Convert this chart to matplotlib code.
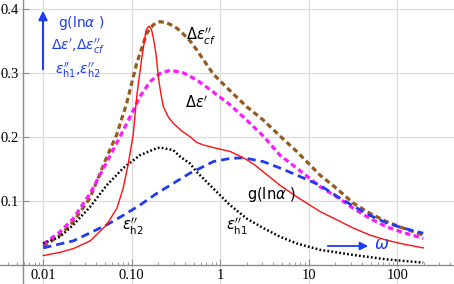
import numpy as np
import matplotlib
matplotlib.use("Agg")
import matplotlib.pyplot as plt
from matplotlib.ticker import FixedLocator, FixedFormatter, LogLocator, NullFormatter

# --- Data (x = omega, log scale) ---
g_x = [0.01, 0.0155, 0.022, 0.034, 0.052, 0.068, 0.080, 0.091, 0.104, 0.114, 0.122,
       0.129, 0.138, 0.145, 0.152, 0.157, 0.167, 0.175, 0.188, 0.200, 0.213, 0.228,
       0.259, 0.295, 0.367, 0.456, 0.542, 0.65, 0.835, 1.29, 1.6, 1.99, 2.5, 3.07,
       4.74, 7.31, 13.4, 20.7, 31.9, 49.3, 76, 117, 197]
g_y = [0.014, 0.019, 0.025, 0.037, 0.062, 0.088, 0.119, 0.156, 0.203, 0.263, 0.294,
       0.320, 0.346, 0.366, 0.371, 0.373, 0.368, 0.356, 0.330, 0.294, 0.268, 0.247,
       0.231, 0.221, 0.209, 0.200, 0.191, 0.187, 0.183, 0.177, 0.171, 0.164, 0.155, 0.145,
       0.124, 0.106, 0.083, 0.070, 0.057, 0.046, 0.038, 0.032, 0.026]

cf_x = [0.01, 0.0155, 0.0219, 0.0338, 0.0522, 0.0676, 0.0877, 0.114, 0.148, 0.175,
        0.209, 0.25, 0.30, 0.351, 0.456, 0.542, 0.835, 1.29, 1.99, 3.07, 4.74, 7.31,
        13.4, 20.7, 31.9, 49.3, 76, 117, 197]
cf_y = [0.028, 0.046, 0.067, 0.104, 0.168, 0.203, 0.252, 0.315, 0.362, 0.375,
        0.380, 0.378, 0.373, 0.366, 0.350, 0.336, 0.298, 0.272, 0.247, 0.226, 0.201, 0.177,
        0.140, 0.119, 0.096, 0.080, 0.067, 0.057, 0.046]

de_x = [0.01, 0.0155, 0.0219, 0.0338, 0.0522, 0.0738, 0.0958, 0.124, 0.161, 0.209,
        0.271, 0.383, 0.542, 0.835, 1.29, 1.99, 3.07, 4.74, 7.31, 13.4, 20.7, 31.9,
        49.3, 76, 117, 197]
de_y = [0.032, 0.051, 0.072, 0.111, 0.160, 0.200, 0.231, 0.263, 0.286, 0.299,
        0.304, 0.300, 0.289, 0.270, 0.250, 0.226, 0.201, 0.171, 0.151, 0.122, 0.106, 0.088,
        0.072, 0.059, 0.050, 0.041]

h2_x = [0.01, 0.0219, 0.0522, 0.0804, 0.124, 0.191, 0.295, 0.456, 0.542, 0.835, 1.29,
        1.83, 3.07, 4.74, 7.31, 13.4, 20.7, 31.9, 49.3, 76, 117, 197]
h2_y = [0.026, 0.037, 0.062, 0.077, 0.093, 0.111, 0.127, 0.143, 0.148, 0.161, 0.166,
        0.167, 0.161, 0.151, 0.140, 0.124, 0.107, 0.0915, 0.077, 0.065, 0.057, 0.049]

h1_x = [0.01, 0.0155, 0.0219, 0.0338, 0.0522, 0.0804, 0.124, 0.191, 0.209, 0.295,
        0.351, 0.456, 0.542, 0.835, 1.29, 1.99, 3.07, 4.74, 7.31, 13.4, 31.9, 76, 197]
h1_y = [0.033, 0.0435, 0.062, 0.090, 0.124, 0.151, 0.171, 0.182, 0.183, 0.179,
        0.169, 0.158, 0.145, 0.119, 0.093, 0.072, 0.057, 0.0435, 0.033, 0.023, 0.015, 0.008, 0.003]

x_ticks = [0.01, 0.1, 1, 10, 100]
x_labels = ["0.01", "0.10", "1", "10", "100"]
y_ticks = [0.1, 0.2, 0.3, 0.4]
y_labels = ["0.1", "0.2", "0.3", "0.4"]

W, H = 454, 284
BLUE = "#1f3cf0"


def px(x, y):
    # pixel position in the picture -> axes fraction
    return (x / W, 1 - y / H)


fig = plt.figure(figsize=(W / 100, H / 100), dpi=100)
ax = fig.add_axes([0, 0, 1, 1])
ax.set_xscale("log")
ax.set_xlim(10 ** -2.488, 10 ** 2.642)
ax.set_ylim(-0.0305, 0.4139)

# --- curves ---
ax.plot(cf_x, cf_y, color="#955a1e", lw=2.3, linestyle=(0, (1.7, 1.1)))
ax.plot(de_x, de_y, color="#ff1aff", lw=2.3, linestyle=(0, (1.7, 1.1)))
ax.plot(h2_x, h2_y, color=BLUE, lw=2.0, linestyle=(0, (3.0, 1.8)))
ax.plot(h1_x, h1_y, color="black", lw=1.8, linestyle=(0, (0.7, 0.9)))
ax.plot(g_x, g_y, color="#ff1010", lw=1.0)

# --- axes in Mathematica style ---
for s in ["top", "right"]:
    ax.spines[s].set_visible(False)
ax.spines["left"].set_position(("data", 10 ** -2.228))
ax.spines["bottom"].set_position(("data", 0))
for s in ["left", "bottom"]:
    ax.spines[s].set_color("#8c8c8c")
    ax.spines[s].set_linewidth(1.0)

ax.xaxis.set_major_locator(FixedLocator(x_ticks))
ax.xaxis.set_major_formatter(FixedFormatter(x_labels))
ax.xaxis.set_minor_locator(LogLocator(base=10, subs=np.arange(2, 10)))
ax.xaxis.set_minor_formatter(NullFormatter())
ax.yaxis.set_major_locator(FixedLocator(y_ticks))
ax.yaxis.set_major_formatter(FixedFormatter(y_labels))

ax.tick_params(axis="both", which="major", direction="in", length=4, width=0.8,
               color="#8c8c8c", labelsize=10.5, pad=3)
ax.tick_params(axis="both", which="minor", direction="in", length=2, width=0.6,
               color="#8c8c8c")
for lab in ax.get_xticklabels() + ax.get_yticklabels():
    lab.set_fontfamily("Liberation Serif")

ax.grid(True, which="major", color="#dcdcdc", lw=0.9)
ax.set_axisbelow(True)

# --- blue legend block with arrow ---
ax.annotate("", xy=px(43, 8), xytext=px(43, 72), xycoords="axes fraction",
            arrowprops=dict(arrowstyle="-|>", color=BLUE, lw=1.5, mutation_scale=13))
ax.text(*px(81, 23), r"g(ln$\alpha$ )", color=BLUE, fontsize=10,
        ha="center", va="center", transform=ax.transAxes)
ax.text(*px(78, 46), r"$\Delta\epsilon^{\prime}$,$\Delta\epsilon^{\prime\prime}_{cf}$",
        color=BLUE, fontsize=10, ha="center", va="center", transform=ax.transAxes)
ax.text(*px(78, 70), r"$\epsilon^{\prime\prime}_{\mathrm{h1}}$,$\epsilon^{\prime\prime}_{\mathrm{h2}}$",
        color=BLUE, fontsize=10, ha="center", va="center", transform=ax.transAxes)

# --- omega arrow ---
ax.annotate("", xy=px(371, 246), xytext=px(325, 246), xycoords="axes fraction",
            arrowprops=dict(arrowstyle="-|>", color=BLUE, lw=1.3, mutation_scale=12))
ax.text(*px(382, 244), r"$\omega$", color=BLUE, fontsize=12,
        ha="center", va="center", transform=ax.transAxes)

# --- curve labels ---
ax.text(*px(201, 36), r"$\Delta\epsilon^{\prime\prime}_{cf}$", fontsize=10.5,
        ha="center", va="center", transform=ax.transAxes)
ax.text(*px(197, 103), r"$\Delta\epsilon^{\prime}$", fontsize=10.5,
        ha="center", va="center", transform=ax.transAxes)
ax.text(*px(272, 195), r"g(ln$\alpha$ )", fontsize=10.5,
        ha="center", va="center", transform=ax.transAxes)
ax.text(*px(237, 226), r"$\epsilon^{\prime\prime}_{\mathrm{h1}}$", fontsize=10.5,
        ha="center", va="center", transform=ax.transAxes)
ax.text(*px(133, 226), r"$\epsilon^{\prime\prime}_{\mathrm{h2}}$", fontsize=10.5,
        ha="center", va="center", transform=ax.transAxes)

fig.savefig("out.png", dpi=100)
